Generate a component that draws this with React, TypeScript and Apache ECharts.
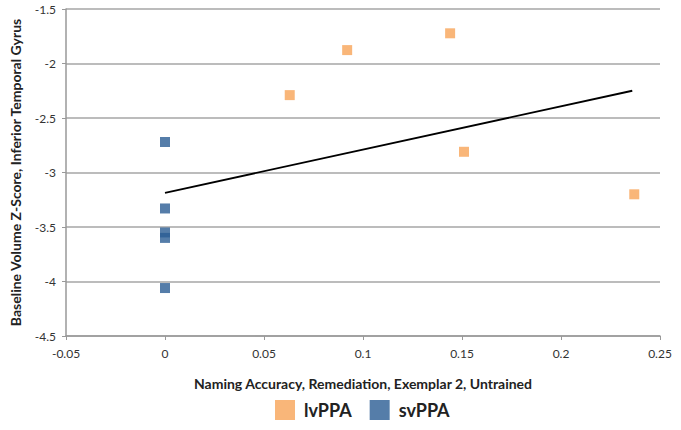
import React, { useEffect, useRef } from "react";
import * as echarts from "echarts";

const lvPPA: [number, number][] = [
  [0.063, -2.29],
  [0.092, -1.877],
  [0.144, -1.723],
  [0.151, -2.81],
  [0.237, -3.2],
];
const svPPA: [number, number][] = [
  [0, -2.72],
  [0, -3.33],
  [0, -3.55],
  [0, -3.6],
  [0, -4.06],
];
const trend: [number, number][] = [
  [0, -3.187],
  [0.236, -2.25],
];
const xTitle = "Naming Accuracy, Remediation, Exemplar 2, Untrained";
const yTitle = "Baseline Volume Z-Score, Inferior Temporal Gyrus";

const FONT = "Lato, 'Open Sans', sans-serif";
const ORANGE = "#F8A458";
const BLUE = "#2A5C94";

export default function App() {
  const ref = useRef<HTMLDivElement>(null);
  useEffect(() => {
    if (!ref.current) return;
    const chart = echarts.init(ref.current, undefined, { renderer: "svg" });
    chart.setOption({
      animation: false,
      textStyle: { fontFamily: FONT },
      grid: { left: 62, right: 21, top: 9, bottom: 94 },
      legend: {
        bottom: 10,
        left: 275,
        padding: 0,
        itemWidth: 20,
        itemHeight: 20,
        itemGap: 18,
        icon: "rect",
        textStyle: { fontSize: 18, fontWeight: "bold", color: "#222", fontFamily: FONT, padding: [0, 0, 0, 4] },
        data: ["lvPPA", "svPPA"],
      },
      xAxis: {
        type: "value",
        min: -0.05,
        max: 0.25,
        interval: 0.05,
        name: xTitle,
        nameLocation: "middle",
        nameGap: 40,
        nameTextStyle: { fontSize: 14, fontWeight: "bold", color: "#222", fontFamily: FONT },
        axisLine: { show: true, onZero: false, lineStyle: { color: "#999", width: 1.5 } },
        axisTick: { show: true, length: 4, lineStyle: { color: "#999" } },
        splitLine: { show: false },
        axisLabel: { fontSize: 12, color: "#333", margin: 11, fontFamily: FONT },
      },
      yAxis: {
        type: "value",
        min: -4.5,
        max: -1.5,
        interval: 0.5,
        name: yTitle,
        nameLocation: "middle",
        nameGap: 44,
        nameTextStyle: { fontSize: 14, fontWeight: "bold", color: "#222", fontFamily: FONT },
        axisLine: { show: true, onZero: false, lineStyle: { color: "#999", width: 1.5 } },
        axisTick: { show: true, length: 4, lineStyle: { color: "#999" } },
        splitLine: { show: true, lineStyle: { color: "#a6a6a6", width: 1.5 } },
        axisLabel: { fontSize: 12, color: "#333", margin: 10, fontFamily: FONT },
      },
      series: [
        {
          name: "lvPPA",
          type: "scatter",
          symbol: "rect",
          symbolSize: 10,
          itemStyle: { color: ORANGE },
          data: lvPPA,
          z: 3,
        },
        {
          name: "svPPA",
          type: "scatter",
          symbol: "rect",
          symbolSize: 10,
          itemStyle: { color: BLUE },
          data: svPPA,
          z: 3,
        },
        {
          name: "trend",
          type: "line",
          data: trend,
          symbol: "none",
          lineStyle: { color: "#000", width: 1.8 },
          z: 2,
          silent: true,
        },
      ],
    });
    return () => chart.dispose();
  }, []);
  return (
    <div
      ref={ref}
      style={{ position: "absolute", left: 0, top: 0, width: 681, height: 430 }}
    />
  );
}
